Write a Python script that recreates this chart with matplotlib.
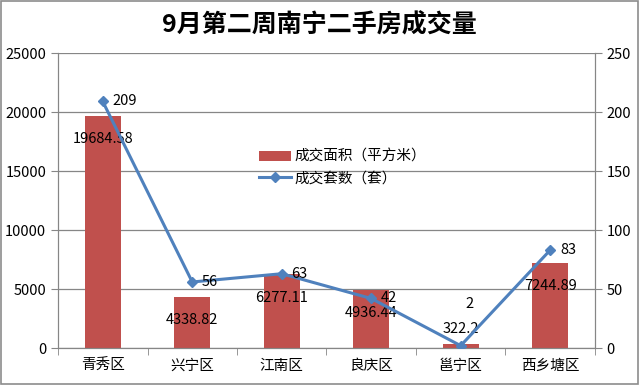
import numpy as np
import matplotlib.pyplot as plt
from matplotlib.patches import Rectangle

plt.rcParams['font.family'] = ['Noto Sans CJK SC', 'DejaVu Sans']

# Data
districts = ['青秀区', '兴宁区', '江南区', '良庆区', '邕宁区', '西乡塘区']
area = [19684.58, 4338.82, 6277.11, 4936.44, 322.2, 7244.89]
deals = [209, 56, 63, 42, 2, 83]
area_labels = ['19684.58', '4338.82', '6277.11', '4936.44', '322.2', '7244.89']

fig = plt.figure(figsize=(6.39, 3.85), dpi=100)
fig.patches.append(Rectangle((0.002, 0.003), 0.996, 0.994, transform=fig.transFigure,
                             fill=False, edgecolor='#8c8c8c', linewidth=1.2))

ax = fig.add_axes([0.0908, 0.096, 0.8402, 0.766])
x = np.arange(len(districts))

# bars on the left axis
ax.bar(x, area, width=0.4, color='#C0504D', zorder=2, label='成交面积（平方米）')
ax.set_ylim(0, 25000)
ax.set_yticks(range(0, 25001, 5000))
ax.set_xlim(-0.5, len(districts) - 0.5)
ax.set_xticks(x)
ax.set_xticklabels(districts, fontsize=10.5)
ax.set_xticks(np.arange(-0.5, len(districts), 1), minor=True)
ax.tick_params(axis='x', which='major', length=0, pad=8)
ax.tick_params(axis='x', which='minor', length=5, color='#868686')
ax.tick_params(axis='y', length=5, color='#868686', labelsize=10.5)
ax.yaxis.grid(True, color='#868686', linewidth=0.9, zorder=0)
ax.spines['top'].set_visible(False)
for s in ['left', 'bottom', 'right']:
    ax.spines[s].set_color('#868686')

# area labels
for i, (v, t) in enumerate(zip(area, area_labels)):
    if v < 2000:
        ax.annotate(t, (i, v), xytext=(0, 11), textcoords='offset points',
                    ha='center', va='center', fontsize=10.5)
    else:
        ax.annotate(t, (i, v), xytext=(0, -17), textcoords='offset points',
                    ha='center', va='center', fontsize=10.5)

# line on the right axis
ax2 = ax.twinx()
ax2.plot(x, deals, color='#4F81BD', linewidth=2.2, marker='D', markersize=5.5,
         label='成交套数（套）', zorder=3)
ax2.set_ylim(0, 250)
ax2.set_yticks(range(0, 251, 50))
ax2.tick_params(axis='y', length=5, color='#868686', labelsize=10.5)
ax2.spines['top'].set_visible(False)
for s in ['left', 'bottom', 'right']:
    ax2.spines[s].set_color('#868686')

for i, v in enumerate(deals):
    if v < 10:
        ax2.annotate(str(v), (i, v), xytext=(6, 30), textcoords='offset points',
                     ha='center', va='center', fontsize=10.5)
    else:
        ax2.annotate(str(v), (i, v), xytext=(7, 0), textcoords='offset points',
                     ha='left', va='center', fontsize=10.5)

h1, l1 = ax.get_legend_handles_labels()
h2, l2 = ax2.get_legend_handles_labels()
fig.legend(h1 + h2, l1 + l2, loc='upper left', bbox_to_anchor=(0.385, 0.645),
           frameon=False, fontsize=10.5, handlelength=2.2, handletextpad=0.2,
           labelspacing=0.5)

fig.text(0.5, 0.935, '9月第二周南宁二手房成交量', ha='center', va='center',
         fontsize=18, fontweight='bold')

fig.savefig('out.png', dpi=100)
